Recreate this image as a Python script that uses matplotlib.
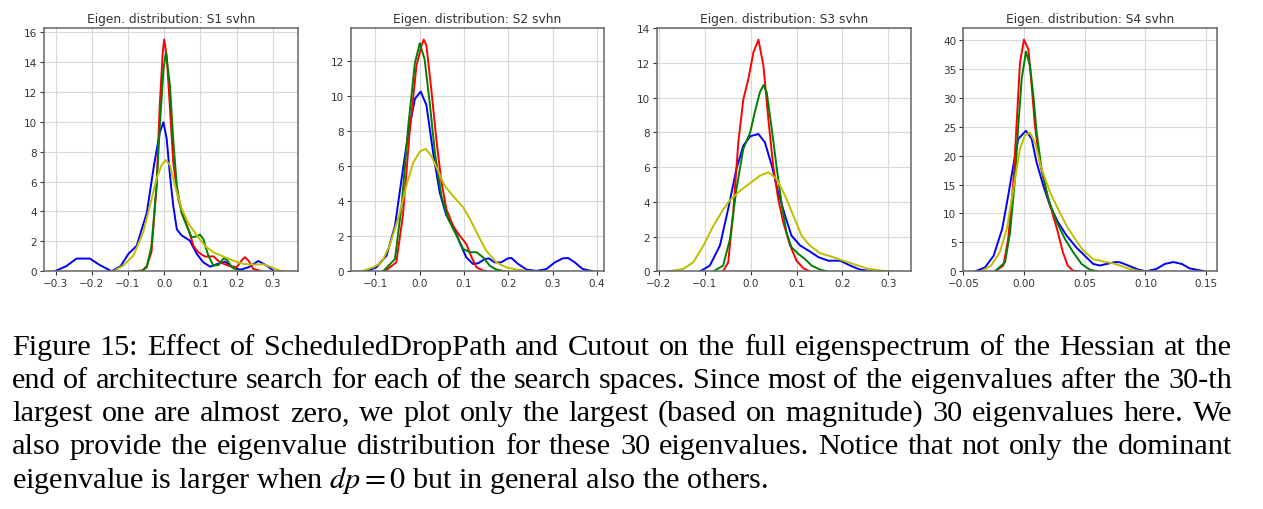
# Eigenvalue distribution (4 search spaces) + figure caption
import matplotlib
matplotlib.use("Agg")
import matplotlib.pyplot as plt

plt.rcParams["mathtext.fontset"] = "stix"

# ---- curve points (x = eigenvalue, y = density) ----
# S1
s1_red_x = [-0.080, -0.060, -0.048, -0.035, -0.021, -0.012, -0.004, 0.000, 0.007, 0.016, 0.025, 0.039, 0.053,
            0.067, 0.081, 0.094, 0.113, 0.136, 0.154, 0.177, 0.200, 0.217, 0.223, 0.233, 0.246, 0.270]
s1_red_y = [0, 0.05, 0.35, 1.3, 5.7, 11.2, 14.6, 15.5, 14.4, 10.9, 7.3, 4.8, 3.7,
            2.8, 1.7, 1.27, 0.98, 1.0, 0.6, 0.38, 0.27, 0.82, 0.94, 0.71, 0.16, 0]
s1_green_x = [-0.085, -0.060, -0.048, -0.035, -0.021, -0.012, -0.002, 0.005, 0.016, 0.025, 0.035, 0.048, 0.062,
              0.076, 0.090, 0.099, 0.108, 0.122, 0.136, 0.150, 0.164, 0.173, 0.187, 0.205, 0.220]
s1_green_y = [0, 0.05, 0.27, 1.7, 5.7, 9.7, 13.5, 14.6, 12.4, 8.8, 5.7, 3.9, 3.05,
              2.27, 2.34, 2.45, 2.16, 1.05, 0.38, 0.42, 0.87, 0.78, 0.27, 0.04, 0]
s1_blue_x = [-0.302, -0.270, -0.242, -0.205, -0.180, -0.145, -0.120, -0.099, -0.076, -0.048, -0.028, -0.012,
             -0.002, 0.007, 0.016, 0.025, 0.035, 0.048, 0.071, 0.090, 0.108, 0.127, 0.145, 0.168, 0.191, 0.210,
             0.233, 0.260, 0.283, 0.302]
s1_blue_y = [0, 0.35, 0.85, 0.85, 0.45, 0.0, 0.35, 1.16, 1.7, 3.9, 7.1, 9.3,
             9.96, 8.85, 6.4, 4.4, 2.8, 2.4, 2.05, 1.16, 0.6, 0.31, 0.47, 0.65, 0.25, 0.11,
             0.27, 0.69, 0.38, 0.04]
s1_yellow_x = [-0.140, -0.113, -0.085, -0.058, -0.039, -0.021, -0.007, 0.004, 0.016, 0.030, 0.048, 0.067,
               0.090, 0.113, 0.136, 0.164, 0.191, 0.219, 0.246, 0.274, 0.297, 0.320, 0.339]
s1_yellow_y = [0, 0.38, 1.05, 2.6, 4.4, 6.2, 7.1, 7.44, 7.1, 5.7, 4.2, 3.2,
               2.4, 1.7, 1.27, 0.98, 0.71, 0.49, 0.45, 0.47, 0.27, 0.04, 0]

# S2
s2_red_x = [-0.079, -0.053, -0.038, -0.023, -0.0075, 0.004, 0.009, 0.015, 0.026, 0.038, 0.049, 0.060, 0.075,
            0.090, 0.105, 0.117, 0.128, 0.143, 0.150]
s2_red_y = [0, 0.51, 3.2, 7.9, 11.75, 12.9, 13.24, 12.9, 10.4, 7.4, 5.1, 3.56, 2.6,
            2.04, 1.56, 0.8, 0.23, 0.04, 0]
s2_green_x = [-0.083, -0.056, -0.041, -0.026, -0.011, 0.000, 0.011, 0.023, 0.034, 0.049, 0.064, 0.083, 0.098,
              0.113, 0.128, 0.143, 0.158, 0.173, 0.192]
s2_green_y = [0, 0.7, 3.75, 8.3, 11.9, 13.03, 12.1, 9.5, 6.8, 4.3, 3.0, 2.04, 1.28,
              1.09, 1.09, 0.8, 0.32, 0.1, 0]
s2_blue_x = [-0.120, -0.098, -0.075, -0.056, -0.041, -0.026, -0.011, 0.002, 0.015, 0.030, 0.045, 0.060, 0.075,
             0.090, 0.105, 0.120, 0.132, 0.147, 0.156, 0.169, 0.184, 0.199, 0.207, 0.222, 0.241, 0.263, 0.286,
             0.305, 0.323, 0.335, 0.350, 0.368, 0.391]
s2_blue_y = [0, 0.23, 0.9, 2.6, 5.3, 7.9, 9.85, 10.27, 9.5, 6.8, 4.5, 3.2, 2.6,
             1.66, 0.8, 0.42, 0.46, 0.7, 0.74, 0.51, 0.51, 0.74, 0.76, 0.42, 0.1, 0.02, 0.13,
             0.51, 0.74, 0.76, 0.51, 0.13, 0]
s2_yellow_x = [-0.132, -0.105, -0.086, -0.068, -0.049, -0.030, -0.015, 0.000, 0.013, 0.026, 0.041, 0.056,
               0.075, 0.098, 0.113, 0.132, 0.150, 0.173, 0.195, 0.218, 0.248]
s2_yellow_y = [0, 0.23, 0.51, 1.47, 3.0, 4.9, 6.2, 6.84, 7.0, 6.6, 5.75, 4.9,
               4.3, 3.66, 3.0, 2.04, 1.18, 0.51, 0.23, 0.1, 0]

# S3
s3_red_x = [-0.060, -0.049, -0.038, -0.027, -0.016, -0.005, 0.006, 0.017, 0.028, 0.0385, 0.049, 0.060, 0.071,
            0.086, 0.100, 0.115, 0.129]
s3_red_y = [0, 0.52, 3.4, 7.4, 9.9, 11.07, 12.6, 13.33, 11.8, 8.76, 6.08, 4.16, 2.82,
            1.48, 0.61, 0.17, 0]
s3_green_x = [-0.081, -0.060, -0.045, -0.031, -0.016, -0.001, 0.009, 0.020, 0.028, 0.035, 0.046, 0.057, 0.068,
              0.078, 0.089, 0.104, 0.118, 0.133, 0.151, 0.166]
s3_green_y = [0, 0.33, 1.86, 4.74, 7.04, 8.0, 9.15, 10.3, 10.72, 10.3, 8.19, 5.9, 3.78,
              2.24, 1.38, 1.0, 0.71, 0.33, 0.1, 0]
s3_blue_x = [-0.110, -0.089, -0.067, -0.049, -0.031, -0.016, -0.001, 0.017, 0.031, 0.046, 0.060, 0.075, 0.089,
             0.108, 0.126, 0.148, 0.169, 0.195, 0.217, 0.238, 0.264]
s3_blue_y = [0, 0.33, 1.48, 3.59, 5.9, 7.23, 7.77, 7.9, 7.42, 6.08, 4.55, 3.2, 2.05,
             1.48, 1.19, 0.81, 0.61, 0.61, 0.33, 0.1, 0]
s3_yellow_x = [-0.180, -0.147, -0.125, -0.103, -0.081, -0.060, -0.045, -0.023, 0.000, 0.020, 0.0385, 0.057,
               0.075, 0.093, 0.111, 0.129, 0.151, 0.180, 0.202, 0.224, 0.253, 0.282, 0.311]
s3_yellow_y = [0, 0.13, 0.52, 1.48, 2.63, 3.55, 4.1, 4.64, 5.1, 5.5, 5.7, 5.31,
               4.35, 3.2, 2.05, 1.48, 1.05, 0.81, 0.61, 0.42, 0.17, 0.04, 0]

# S4
s4_red_x = [-0.024, -0.017, -0.013, -0.0088, -0.006, -0.0033, 0.000, 0.0036, 0.0063, 0.009, 0.013, 0.0186,
            0.024, 0.028, 0.032, 0.036, 0.0405, 0.045]
s4_red_y = [0, 1.0, 5.6, 15.4, 25.8, 36.1, 40.06, 38.4, 32.1, 25.2, 18.8, 13.7,
            9.6, 6.7, 3.3, 1.0, 0.1, 0]
s4_green_x = [-0.024, -0.0156, -0.0115, -0.0074, -0.0047, -0.0019, 0.0016, 0.0049, 0.0077, 0.0104, 0.0145,
              0.020, 0.027, 0.0337, 0.0405, 0.0474, 0.054, 0.060]
s4_green_y = [0, 1.56, 6.7, 16, 25.2, 33.3, 38, 35.6, 30.4, 24, 17.7,
              12.5, 8.5, 5.6, 3.3, 1.27, 0.3, 0]
s4_blue_x = [-0.040, -0.032, -0.025, -0.018, -0.013, -0.0088, -0.0047, 0.0016, 0.0063, 0.0104, 0.0159, 0.0214,
             0.028, 0.035, 0.043, 0.0515, 0.057, 0.0625, 0.068, 0.075, 0.079, 0.0858, 0.094, 0.1008, 0.109,
             0.116, 0.123, 0.130, 0.1364, 0.149]
s4_blue_y = [0, 0.7, 2.7, 7.3, 13.1, 18.3, 22.9, 24.3, 22.9, 18.8, 14.8, 11.35,
             8.5, 6.2, 4.15, 2.4, 1.27, 1.0, 1.27, 1.6, 1.56, 1.0, 0.3, 0, 0.4,
             1.27, 1.6, 1.27, 0.5, 0]
s4_yellow_x = [-0.035, -0.027, -0.020, -0.0142, -0.0088, -0.0033, 0.0008, 0.0049, 0.009, 0.0145, 0.0214,
               0.028, 0.035, 0.042, 0.0488, 0.057, 0.0652, 0.072, 0.079, 0.087, 0.0953, 0.100]
s4_yellow_y = [0, 1.0, 3.3, 7.3, 14.2, 21.2, 23.5, 24.0, 22.3, 17.7, 13.7,
               10.8, 7.9, 5.6, 3.6, 2.1, 1.7, 1.44, 1.0, 0.4, 0.05, 0]

titles = ["Eigen. distribution: S1 svhn", "Eigen. distribution: S2 svhn",
          "Eigen. distribution: S3 svhn", "Eigen. distribution: S4 svhn"]
x_ticks = [[-0.3, -0.2, -0.1, 0.0, 0.1, 0.2, 0.3],
           [-0.1, 0.0, 0.1, 0.2, 0.3, 0.4],
           [-0.2, -0.1, 0.0, 0.1, 0.2, 0.3],
           [-0.05, 0.0, 0.05, 0.10, 0.15]]
y_ticks = [list(range(0, 17, 2)), list(range(0, 13, 2)), list(range(0, 15, 2)), list(range(0, 41, 5))]

caption_lines = [
    "Figure 15: Effect of ScheduledDropPath and Cutout on the full eigenspectrum of the Hessian at the",
    "end of architecture search for each of the search spaces. Since most of the eigenvalues after the 30-th",
    "largest one are almost zero, we plot only the largest (based on magnitude) 30 eigenvalues here. We",
    "also provide the eigenvalue distribution for these 30 eigenvalues. Notice that not only the dominant",
    "eigenvalue is larger when $dp = 0$ but in general also the others.",
]

curves = [
    [(s1_blue_x, s1_blue_y, "b"), (s1_red_x, s1_red_y, "r"), (s1_green_x, s1_green_y, "g"), (s1_yellow_x, s1_yellow_y, "y")],
    [(s2_blue_x, s2_blue_y, "b"), (s2_red_x, s2_red_y, "r"), (s2_green_x, s2_green_y, "g"), (s2_yellow_x, s2_yellow_y, "y")],
    [(s3_blue_x, s3_blue_y, "b"), (s3_red_x, s3_red_y, "r"), (s3_green_x, s3_green_y, "g"), (s3_yellow_x, s3_yellow_y, "y")],
    [(s4_blue_x, s4_blue_y, "b"), (s4_red_x, s4_red_y, "r"), (s4_green_x, s4_green_y, "g"), (s4_yellow_x, s4_yellow_y, "y")],
]
x_lims = [(-0.331, 0.369), (-0.156, 0.4165), (-0.2035, 0.349), (-0.05, 0.1588)]
y_tops = [16.26, 13.9, 14.0, 42.07]

W, H = 1263, 510
fig = plt.figure(figsize=(W / 100, H / 100), dpi=100)

lefts = [44.3, 350.7, 657.3, 963.3]
ax_w, ax_top, ax_bot = 253.5, 29, 272.3

for i in range(4):
    ax = fig.add_axes([lefts[i] / W, 1 - ax_bot / H, ax_w / W, (ax_bot - ax_top) / H])
    for xs, ys, c in curves[i]:
        ax.plot(xs, ys, color=c, lw=1.4)
    ax.set_xlim(*x_lims[i])
    ax.set_ylim(0, y_tops[i])
    ax.set_xticks(x_ticks[i])
    ax.set_yticks(y_ticks[i])
    ax.grid(True, color="#d9d9d9", lw=0.8)
    ax.set_axisbelow(True)
    for sp in ax.spines.values():
        sp.set_color("#666666")
        sp.set_linewidth(1.1)
    ax.tick_params(labelsize=7.5, length=3, width=0.8, color="#333333", labelcolor="#333333", pad=2)
    ax.set_title(titles[i], fontsize=8.8, color="#333333", pad=4)

# caption, justified like the paper text
renderer = fig.canvas.get_renderer()
left_px, right_px = 12, 1232
baselines = [355, 388, 421, 454, 488]

# pick the size so the widest justified line fits with ordinary word spacing
probe = [fig.text(0, 0, ln, family="Liberation Serif", fontsize=20) for ln in caption_lines[:4]]
widest = max(t.get_window_extent(renderer).width for t in probe)
for t in probe:
    t.remove()
fs = 20 * (right_px - left_px) / widest

for k, line in enumerate(caption_lines):
    y = 1 - baselines[k] / H
    if k == len(caption_lines) - 1:
        fig.text(left_px / W, y, line, family="Liberation Serif", fontsize=fs, va="baseline", ha="left")
        continue
    words = line.split(" ")
    texts = [fig.text(0, y, w, family="Liberation Serif", fontsize=fs, va="baseline", ha="left") for w in words]
    widths = [t.get_window_extent(renderer).width for t in texts]
    gap = (right_px - left_px - sum(widths)) / (len(words) - 1)
    x = left_px
    for t, w in zip(texts, widths):
        t.set_x(x / W)
        x += w + gap

fig.savefig("out.png", dpi=100)
